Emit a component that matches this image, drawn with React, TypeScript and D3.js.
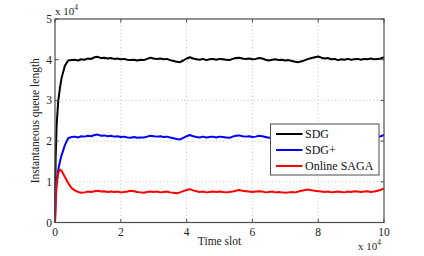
import React from 'react'
import * as d3 from 'd3'

// time slot (x 10^4)
const earlyTimes = [0, 0.02, 0.05, 0.1, 0.15, 0.2, 0.3, 0.4]
const steadyTimes = d3.range(5, 101).map((i) => i / 10)
const timeSlots = [...earlyTimes, ...steadyTimes]

// queue length (x 10^4)
const sdg = [
	0, 1.6, 2.4, 3.0, 3.3, 3.55, 3.85, 3.98,
	3.99, 4.00, 3.98, 4.01, 4.00, 4.03, 4.02, 4.06, 4.07, 4.04,
	4.05, 4.03, 4.04, 4.02, 4.03, 4.01, 4.02, 4.00, 3.99, 4.00,
	3.98, 4.00, 3.99, 4.02, 4.05, 4.03, 4.02, 4.03, 4.01, 4.02,
	3.99, 3.97, 3.95, 3.94, 3.98, 4.03, 4.06, 4.03, 4.01, 4.00,
	4.02, 3.99, 4.01, 4.02, 4.00, 4.02, 4.01, 4.00, 3.99, 4.02,
	4.04, 4.05, 4.03, 4.02, 4.03, 4.01, 4.02, 4.04, 4.03, 4.00,
	3.98, 4.00, 4.01, 3.99, 4.00, 3.98, 3.99, 3.97, 3.95, 3.94,
	3.96, 3.99, 4.02, 4.04, 4.06, 4.08, 4.05, 4.03, 4.04, 4.01,
	4.02, 3.99, 4.01, 4.00, 4.02, 4.00, 4.01, 4.02, 4.00, 4.02,
	4.01, 4.03, 4.01, 4.02, 4.03, 4.06,
]
const sdgPlus = [
	0, 0.7, 1.0, 1.3, 1.5, 1.65, 1.9, 2.07,
	2.10, 2.11, 2.09, 2.12, 2.11, 2.13, 2.12, 2.15, 2.16, 2.13,
	2.14, 2.12, 2.13, 2.11, 2.12, 2.10, 2.11, 2.09, 2.08, 2.10,
	2.08, 2.09, 2.09, 2.11, 2.13, 2.12, 2.11, 2.12, 2.10, 2.11,
	2.09, 2.07, 2.05, 2.04, 2.08, 2.12, 2.15, 2.12, 2.10, 2.09,
	2.11, 2.09, 2.10, 2.11, 2.09, 2.11, 2.10, 2.09, 2.08, 2.11,
	2.13, 2.14, 2.12, 2.11, 2.12, 2.10, 2.11, 2.13, 2.12, 2.10,
	2.08, 2.09, 2.10, 2.09, 2.10, 2.08, 2.09, 2.07, 2.06, 2.05,
	2.07, 2.09, 2.11, 2.12, 2.14, 2.15, 2.13, 2.11, 2.12, 2.10,
	2.11, 2.09, 2.10, 2.09, 2.11, 2.10, 2.10, 2.11, 2.09, 2.11,
	2.10, 2.12, 2.10, 2.11, 2.12, 2.15,
]
const onlineSaga = [
	0, 0.5, 0.95, 1.22, 1.3, 1.27, 1.12, 0.97,
	0.85, 0.79, 0.75, 0.73, 0.74, 0.76, 0.75, 0.77, 0.78, 0.76,
	0.77, 0.75, 0.76, 0.75, 0.76, 0.74, 0.75, 0.76, 0.78, 0.77,
	0.75, 0.74, 0.73, 0.75, 0.76, 0.75, 0.76, 0.74, 0.75, 0.76,
	0.74, 0.73, 0.72, 0.74, 0.77, 0.80, 0.82, 0.79, 0.77, 0.75,
	0.76, 0.74, 0.75, 0.76, 0.75, 0.76, 0.75, 0.74, 0.75, 0.76,
	0.78, 0.80, 0.78, 0.77, 0.76, 0.75, 0.76, 0.77, 0.76, 0.74,
	0.75, 0.76, 0.74, 0.75, 0.74, 0.73, 0.74, 0.75, 0.74, 0.76,
	0.78, 0.80, 0.81, 0.79, 0.78, 0.77, 0.76, 0.75, 0.76, 0.74,
	0.75, 0.76, 0.75, 0.74, 0.76, 0.75, 0.77, 0.76, 0.75, 0.76,
	0.77, 0.75, 0.76, 0.78, 0.80, 0.84,
]

const series = [
	{ label: 'SDG', color: '#000000', values: sdg },
	{ label: 'SDG+', color: '#0000ff', values: sdgPlus },
	{ label: 'Online SAGA', color: '#ff0000', values: onlineSaga },
]

const xTicks = [0, 2, 4, 6, 8, 10]
const yTicks = [0, 1, 2, 3, 4, 5]

export default function App() {
	const width = 424
	const height = 256
	const left = 55
	const right = 384
	const top = 19
	const bottom = 222.5

	const x = d3.scaleLinear().domain([0, 10]).range([left, right])
	const y = d3.scaleLinear().domain([0, 5]).range([bottom, top])

	const line = d3
		.line<number>()
		.x((_, i) => x(timeSlots[i]))
		.y((d) => y(d))

	const font = '"Liberation Serif", "Times New Roman", serif'
	const axisColor = '#4d4d4d'

	return (
		<div style={{ position: 'fixed', left: 0, top: 0 }}>
			<svg width={width} height={height} style={{ display: 'block', background: '#fff' }} fontFamily={font}>
				{/* grid */}
				{xTicks.slice(1, -1).map((t) => (
					<line key={'gx' + t} x1={x(t)} x2={x(t)} y1={top} y2={bottom}
						stroke="#b8b8b8" strokeWidth={0.8} strokeDasharray="1,2.5" />
				))}
				{yTicks.slice(1, -1).map((t) => (
					<line key={'gy' + t} x1={left} x2={right} y1={y(t)} y2={y(t)}
						stroke="#b8b8b8" strokeWidth={0.8} strokeDasharray="1,2.5" />
				))}

				{/* curves */}
				{series.map((s) => (
					<path key={s.label} d={line(s.values) || ''} fill="none" stroke={s.color}
						strokeWidth={2} strokeLinejoin="round" />
				))}

				{/* axes box and ticks */}
				<rect x={left} y={top} width={right - left} height={bottom - top}
					fill="none" stroke={axisColor} strokeWidth={1.2} />
				{xTicks.map((t) => (
					<g key={'tx' + t}>
						<line x1={x(t)} x2={x(t)} y1={bottom} y2={bottom - 3.5} stroke={axisColor} />
						<line x1={x(t)} x2={x(t)} y1={top} y2={top + 3.5} stroke={axisColor} />
						<text x={x(t)} y={bottom + 13} fontSize={11.5} textAnchor="middle" fill="#222">{t}</text>
					</g>
				))}
				{yTicks.map((t) => (
					<g key={'ty' + t}>
						<line x1={left} x2={left + 3.5} y1={y(t)} y2={y(t)} stroke={axisColor} />
						<line x1={right} x2={right - 3.5} y1={y(t)} y2={y(t)} stroke={axisColor} />
						<text x={left - 3} y={y(t) + 4} fontSize={11.5} textAnchor="end" fill="#222">{t}</text>
					</g>
				))}

				{/* exponent labels */}
				<text x={left} y={15} fontSize={11} fill="#222">
					x 10<tspan dy={-5} fontSize={7.5}>4</tspan>
				</text>
				<text x={358} y={250} fontSize={11} fill="#222">
					x 10<tspan dy={-5} fontSize={7.5}>4</tspan>
				</text>

				{/* axis titles */}
				<text x={(left + right) / 2} y={245} fontSize={11.5} textAnchor="middle" fill="#222">Time slot</text>
				<text transform={`translate(39, ${(top + bottom) / 2}) rotate(-90)`} fontSize={11.5}
					textAnchor="middle" fill="#222">Instantaneous queue length</text>

				{/* legend */}
				<rect x={270.5} y={124} width={108.5} height={51} fill="#fff" stroke={axisColor} strokeWidth={1} />
				{series.map((s, i) => (
					<g key={'lg' + s.label}>
						<line x1={276} x2={302.5} y1={134 + i * 16} y2={134 + i * 16} stroke={s.color} strokeWidth={2} />
						<text x={305} y={134 + i * 16 + 4} fontSize={12} fill="#111">{s.label}</text>
					</g>
				))}
			</svg>
		</div>
	)
}
